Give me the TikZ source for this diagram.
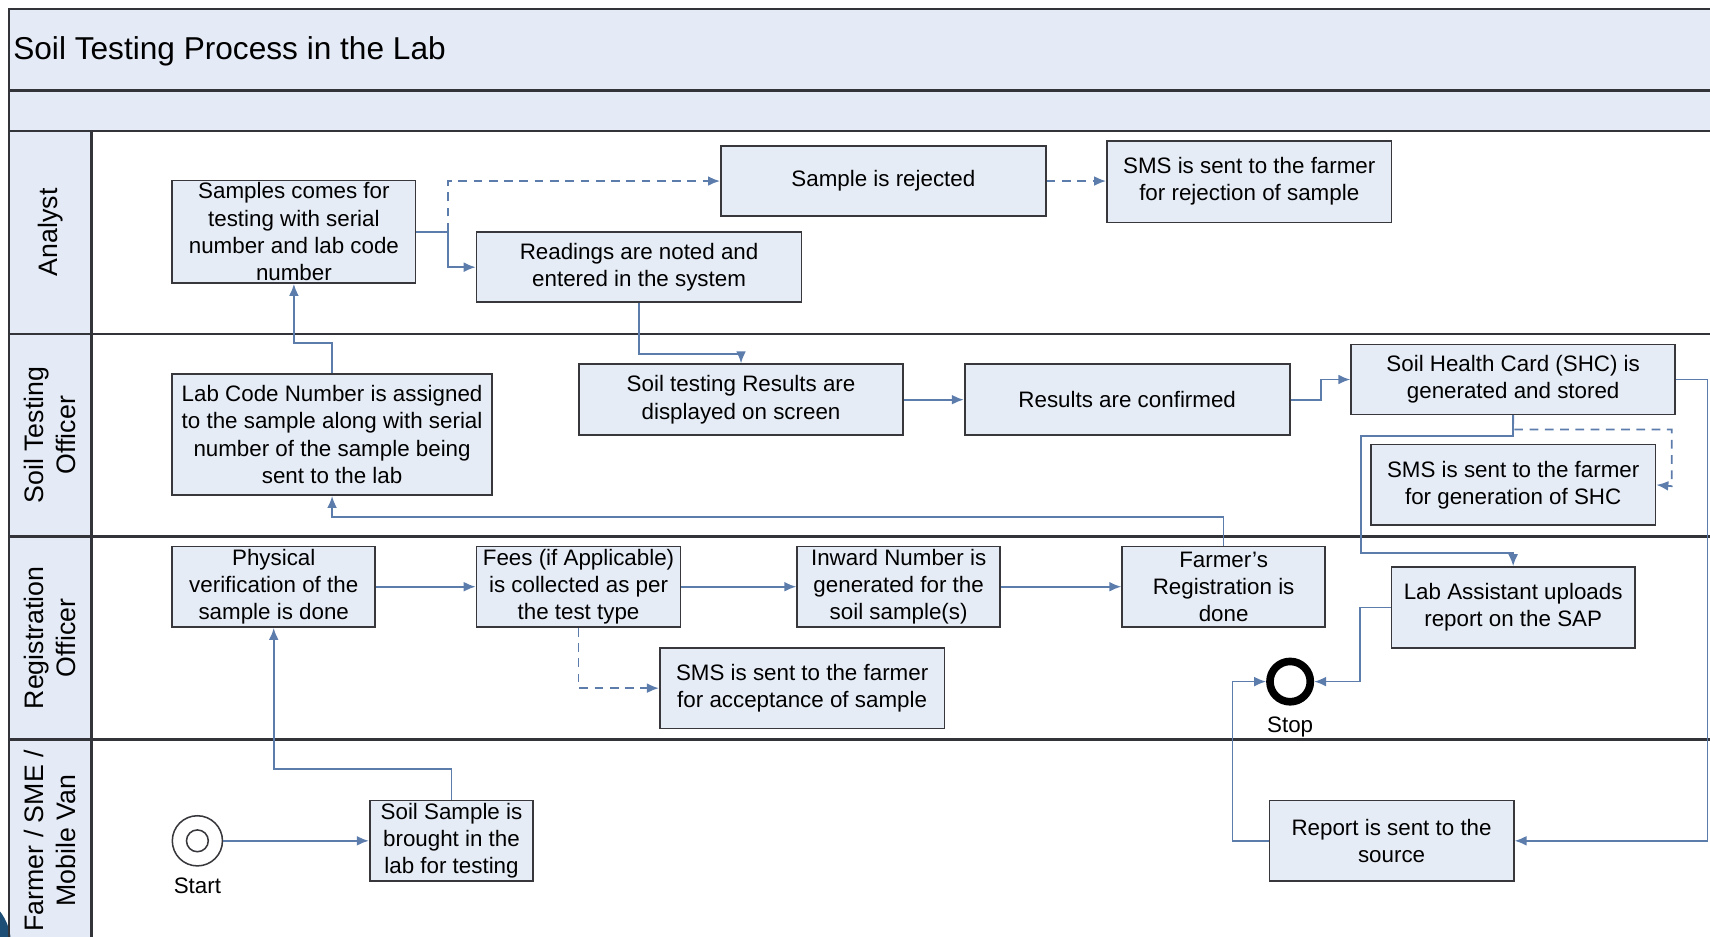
\documentclass[tikz,border=0pt]{standalone}
\usepackage{fontspec}
\setmainfont{Liberation Sans}
\usetikzlibrary{arrows.meta, positioning}

\definecolor{lanefill}{RGB}{229,235,246}
\definecolor{boxfill}{RGB}{230,236,246}
\definecolor{boxline}{RGB}{55,55,60}
\definecolor{laneline}{RGB}{50,52,58}
\definecolor{flowline}{RGB}{92,124,172}
\definecolor{blobcol}{RGB}{28,78,118}

\begin{document}
\begin{tikzpicture}[
        x=1pt, y=-1pt,
        box/.style={rectangle, draw=boxline, fill=boxfill, line width=1.6pt, align=center, inner sep=2pt, font=\fontsize{20.5}{25}\selectfont},
        lanelabel/.style={rotate=90, align=center, inner sep=0pt, font=\fontsize{24.5}{29}\selectfont},
        caption/.style={inner sep=0pt, font=\fontsize{20.5}{25}\selectfont},
        startnode/.style={circle, draw=boxline, line width=1.4pt, fill=white, minimum size=46pt, inner sep=0pt},
        stopnode/.style={circle, draw=black, line width=7pt, minimum size=37pt, inner sep=0pt},
        lane/.style={draw=laneline, line width=2.2pt},
        arrow/.style={draw=flowline, line width=1.6pt, -{Latex[length=11pt,width=9pt]}},
        optional/.style={arrow, dash pattern=on 8pt off 6pt}
    ]
        \clip (0,0) rectangle (1568,859);

        % Pool and lanes
        \fill[lanefill] (8,8) rectangle (1620,120);
        \fill[lanefill] (8,120) rectangle (84,900);
        \fill[blobcol] (-38,865) circle[radius=48pt];
        \draw[lane] (8,900) |- (1620,8);
        \draw[lane] (8,83) -- (1620,83);
        \foreach \y in {120,306,492,678}
            \draw[lane] (8,\y) -- (1620,\y);
        \draw[lane] (84,120) -- (84,900);

        \node[anchor=base west, inner sep=0pt, font=\fontsize{29}{34}\selectfont] (title) at (12,55) {Soil Testing Process in the Lab};
        \node[lanelabel] (analyst) at (46,213) {Analyst};
        \node[lanelabel] (tester) at (46,399) {Soil Testing\\Officer};
        \node[lanelabel] (registrar) at (46,585) {Registration\\Officer};
        \node[lanelabel] (farmer) at (46,771) {Farmer / SME /\\Mobile Van};

        % Nodes
        \node[box, minimum width=223pt, minimum height=93pt] (samples) at (269.5,212.5) {Samples comes for\\testing with serial\\number and lab code\\number};
        \node[box, minimum width=298pt, minimum height=64pt] (rejected) at (810,166) {Sample is rejected};
        \node[box, minimum width=261pt, minimum height=75pt] (smsrej) at (1145.5,166.5) {SMS is sent to the farmer\\for rejection of sample};
        \node[box, minimum width=298pt, minimum height=64pt] (readings) at (586,245) {Readings are noted and\\entered in the system};

        \node[box, minimum width=293pt, minimum height=111pt] (labcode) at (304.5,398.5) {Lab Code Number is assigned\\to the sample along with serial\\number of the sample being\\sent to the lab};
        \node[box, minimum width=297pt, minimum height=65pt] (display) at (679.5,366.5) {Soil testing Results are\\displayed on screen};
        \node[box, minimum width=298pt, minimum height=65pt, right=55pt of display] (confirmed) {Results are confirmed};
        \node[box, minimum width=297pt, minimum height=64pt] (shc) at (1387.5,348) {Soil Health Card (SHC) is\\generated and stored};
        \node[box, minimum width=261pt, minimum height=74pt, below=26pt of shc] (smsshc) {SMS is sent to the farmer\\for generation of SHC};

        \node[box, minimum width=186pt, minimum height=74pt] (physical) at (251,538) {Physical\\verification of the\\sample is done};
        \node[box, minimum width=187pt, minimum height=74pt] (fees) at (530.5,538) {Fees (if Applicable)\\is collected as per\\the test type};
        \node[box, minimum width=186pt, minimum height=74pt] (inward) at (824,538) {Inward Number is\\generated for the\\soil sample(s)};
        \node[box, minimum width=186pt, minimum height=74pt] (registration) at (1122,538) {Farmer's\\Registration is\\done};
        \node[box, minimum width=261pt, minimum height=74pt] (smsacc) at (735.5,631) {SMS is sent to the farmer\\for acceptance of sample};
        \node[box, minimum width=223pt, minimum height=74pt] (upload) at (1387.5,557) {Lab Assistant uploads\\report on the SAP};
        \node[stopnode] (stop) at (1183,625) {};
        \node[caption] (stoptext) at (1183,667) {Stop};

        \node[startnode] (start) at (181,771) {};
        \draw[boxline, line width=1.4pt] (start.center) circle[radius=10pt];
        \node[caption] (starttext) at (181,812) {Start};
        \node[box, minimum width=150pt, minimum height=74pt] (soilsample) at (414,771) {Soil Sample is\\brought in the\\lab for testing};
        \node[box, minimum width=224pt, minimum height=74pt] (report) at (1276,771) {Report is sent to the\\source};

        % Arrows
        \draw[arrow] (start) -- (soilsample);
        \draw[arrow] (soilsample.north) -- ++(0,-28) -| (physical.south);
        \draw[arrow] (physical) -- (fees);
        \draw[arrow] (fees) -- (inward);
        \draw[arrow] (inward) -- (registration);
        \draw[optional] (fees.south) |- (smsacc.west);
        \draw[arrow] (registration.north) -- ++(0,-26) -| (labcode.south);
        \draw[arrow] (labcode.north) -- ++(0,-28) -| (samples.south);
        \path (samples.east) ++(29,0) coordinate (fork);
        \draw[arrow] (samples.east) -- (fork) |- (readings.west);
        \draw[optional] (fork) |- (rejected.west);
        \draw[optional] (rejected.east) -- (rejected.east -| smsrej.west);
        \draw[arrow] (readings.south) -- ++(0,47) -| (display.north);
        \draw[arrow] (display) -- (confirmed);
        \draw[arrow] (confirmed.east) -- ++(28,0) |- (shc.west);
        \draw[optional] (shc.south) -- ++(0,13) -| ++(145.5,52) -- (smsshc.east);
        \draw[arrow] (shc.south) -- ++(0,19) -| ++(-139.5,107) -| (upload.north);
        \draw[arrow] (shc.east) -- ++(29,0) |- (report.east);
        \draw[arrow] (upload.west) -- ++(-28,0) |- (stop.east);
        \draw[arrow] (report.west) -- ++(-33,0) |- (stop.west);
\end{tikzpicture}
\end{document}
